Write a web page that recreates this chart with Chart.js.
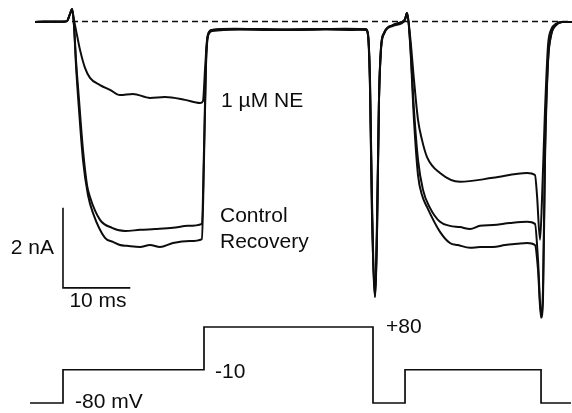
<!DOCTYPE html>
<html>
<head>
<meta charset="utf-8">
<script src="https://cdn.jsdelivr.net/npm/chart.js@4.4.1/dist/chart.umd.min.js"></script>
<style>
  html, body { margin: 0; padding: 0; background: #fff; }
  #wrap { width: 572px; height: 413px; position: relative; }
</style>
</head>
<body>
<div id="wrap"><canvas id="trace"></canvas></div>
<script>
// time in ms (0 = onset of the first step), current in nA, voltage in mV

// 1 uM NE
const neTime = [-4.16, -2.67, -1.19, 0, 0.59, 1.04, 1.34, 1.63, 2.08, 2.53, 3.27, 4.01, 5.50, 6.98, 8.47, 10.40, 12.93, 15.16, 18.13, 20.36,
  20.80, 21.10, 21.40, 21.69, 22.14, 24.81, 29.27, 35.22, 41.16, 45.02, 45.32, 45.62, 45.91, 46.36, 46.66, 46.95, 47.25, 47.70, 49.03, 50.37,
  50.82, 51.11, 51.56, 52.15, 52.75, 53.34, 54.09, 56.02, 58.99, 63.89, 68.95, 70.13, 70.43, 70.88, 71.17, 71.62, 72.07, 72.51, 73.25, 74.15, 75.63];
const neCurrent = [-0.01, 0, -0.01, 0, 0.01, 0.19, 0.31, 0.04, -0.34, -0.71, -1.16, -1.41, -1.59, -1.71, -1.84, -1.81, -1.91, -1.89, -1.96, -2.04,
  -1.99, -1.21, -0.46, -0.26, -0.21, -0.19, -0.20, -0.21, -0.19, -0.21, -0.34, -1.46, -4.46, -6.71, -4.96, -1.96, -0.71, -0.31, -0.11, -0.04,
  0.04, 0.21, -0.34, -1.46, -2.46, -2.96, -3.39, -3.79, -4.01, -3.91, -3.79, -3.84, -4.34, -5.46, -4.46, -2.21, -0.59, -0.21, -0.06, -0.01, -0.01];

// Control
const ctlTime = [-4.16, -2.67, -1.19, 0, 0.59, 1.04, 1.34, 1.63, 1.93, 2.38, 2.97, 3.57, 4.01, 5.50, 7.28, 9.21, 11.44, 13.67, 16.34, 18.57,
  20.65, 20.95, 21.25, 21.55, 22.14, 25.56, 30.01, 35.96, 41.90, 45.02, 45.32, 45.62, 45.91, 46.36, 46.66, 46.95, 47.25, 47.70, 49.03, 50.37,
  50.82, 51.11, 51.56, 52.15, 52.75, 53.49, 54.53, 56.02, 57.50, 58.99, 60.48, 61.96, 63.89, 66.42, 68.95, 70.13, 70.58, 71.03, 71.32, 71.62,
  72.07, 72.51, 73.25, 74.15, 75.63];
const ctlCurrent = [-0.01, 0, 0, 0, 0.01, 0.19, 0.31, -0.09, -0.96, -1.96, -3.21, -4.09, -4.39, -4.96, -5.16, -5.24, -5.21, -5.19, -5.16, -5.11,
  -5.06, -3.21, -0.96, -0.34, -0.21, -0.18, -0.19, -0.20, -0.18, -0.19, -0.31, -1.59, -4.71, -6.89, -5.21, -1.96, -0.66, -0.29, -0.09, -0.01,
  0.06, 0.21, -0.46, -2.21, -3.46, -4.21, -4.66, -5.01, -5.11, -5.14, -5.19, -5.11, -5.09, -5.04, -5.01, -5.06, -5.96, -7.34, -6.71, -3.21,
  -0.96, -0.34, -0.09, -0.01, -0.01];

// Recovery
const recTime = [-4.16, -2.67, -1.19, 0, 0.59, 1.04, 1.34, 1.63, 1.93, 2.38, 2.97, 3.71, 4.46, 6.24, 7.43, 8.47, 9.51, 11.44, 12.93, 14.41,
  16.34, 18.87, 20.65, 20.95, 21.25, 21.55, 22.14, 26.30, 30.76, 36.70, 42.65, 45.02, 45.32, 45.62, 45.91, 46.36, 46.66, 46.95, 47.25, 47.70,
  49.03, 50.37, 50.82, 51.11, 51.56, 52.15, 52.75, 53.34, 54.09, 56.02, 57.50, 58.69, 60.48, 61.96, 63.89, 65.68, 67.46, 68.95, 70.13, 70.58,
  71.03, 71.32, 71.62, 72.07, 72.51, 73.25, 74.15, 75.63];
const recCurrent = [-0.01, -0.01, 0, -0.01, 0.01, 0.19, 0.31, -0.09, -1.09, -2.21, -3.46, -4.34, -4.79, -5.41, -5.51, -5.59, -5.61, -5.64, -5.59, -5.64,
  -5.54, -5.49, -5.44, -3.46, -1.09, -0.36, -0.24, -0.20, -0.21, -0.19, -0.21, -0.20, -0.34, -1.71, -4.84, -6.89, -5.34, -1.96, -0.66, -0.29,
  -0.09, -0.01, 0.06, 0.21, -0.51, -2.46, -3.84, -4.34, -4.64, -5.26, -5.54, -5.59, -5.66, -5.64, -5.64, -5.59, -5.56, -5.54, -5.59, -6.21,
  -7.41, -6.96, -3.46, -1.01, -0.36, -0.09, -0.01, -0.01];

// zero-current reference (dashed)
const zeroLineTime = [1.34, 75.63];
const zeroLineCurrent = [0, 0];

// voltage protocol: level held from each step time until the next
const stepTime = [-4.90, 0, 20.95, 46.06, 50.82, 71.03, 75.48];
const stepLevel = [-80, -10, 80, -80, -10, -80, -80];

// scale bars: 10 ms, 2 nA
const barTime = [0, 0, 10];
const barCurrent = [-4.66, -6.66, -6.66];

const INK = '#0d0d0d';
const pts = (xs, ys) => xs.map((x, i) => ({ x, y: ys[i] }));

const textLabels = [
  { text: '1 \u00B5M NE', t: 23.48, v: -2.0, axis: 'y', align: 'left' },
  { text: 'Control', t: 23.33, v: -4.86, axis: 'y', align: 'left' },
  { text: 'Recovery', t: 23.33, v: -5.51, axis: 'y', align: 'left' },
  { text: '2 nA', t: -1.34, v: -5.66, axis: 'y', align: 'right' },
  { text: '10 ms', t: 5.2, v: -6.99, axis: 'y', align: 'center' },
  { text: '-80 mV', t: 1.78, v: -77.9, axis: 'yV', align: 'left' },
  { text: '-10', t: 22.59, v: -14.8, axis: 'yV', align: 'left' },
  { text: '+80', t: 48.0, v: 80, axis: 'yV', align: 'left' },
];

const labelPlugin = {
  id: 'traceLabels',
  afterDatasetsDraw(chart) {
    const { ctx, scales } = chart;
    ctx.save();
    ctx.fillStyle = INK;
    ctx.font = '21px "Liberation Sans", Arial, sans-serif';
    ctx.textBaseline = 'middle';
    textLabels.forEach(l => {
      ctx.textAlign = l.align;
      ctx.fillText(l.text, scales.x.getPixelForValue(l.t), scales[l.axis].getPixelForValue(l.v));
    });
    ctx.restore();
  }
};

const traceStyle = { borderColor: INK, borderWidth: 2, pointRadius: 0, cubicInterpolationMode: 'monotone', fill: false };

new Chart(document.getElementById('trace'), {
  type: 'line',
  data: {
    datasets: [
      { ...traceStyle, data: pts(neTime, neCurrent) },
      { ...traceStyle, data: pts(ctlTime, ctlCurrent) },
      { ...traceStyle, data: pts(recTime, recCurrent) },
      { data: pts(zeroLineTime, zeroLineCurrent), borderColor: INK, borderWidth: 1.5, borderDash: [6, 4], pointRadius: 0, tension: 0 },
      { data: pts(stepTime, stepLevel), yAxisID: 'yV', stepped: 'before', borderColor: INK, borderWidth: 1.7, pointRadius: 0 },
      { data: pts(barTime, barCurrent), borderColor: INK, borderWidth: 1.6, pointRadius: 0, tension: 0 },
    ]
  },
  options: {
    responsive: true, maintainAspectRatio: false,
    animation: false,
    layout: { padding: 0 },
    plugins: { legend: { display: false }, tooltip: { enabled: false } },
    scales: {
      x: { type: 'linear', min: -9.36, max: 75.63, display: false },
      y: { type: 'linear', min: -9.79, max: 0.5375, display: false },
      yV: { type: 'linear', min: -101.05, max: 768.4, display: false },
    }
  },
  plugins: [labelPlugin]
});
</script>
</body>
</html>
